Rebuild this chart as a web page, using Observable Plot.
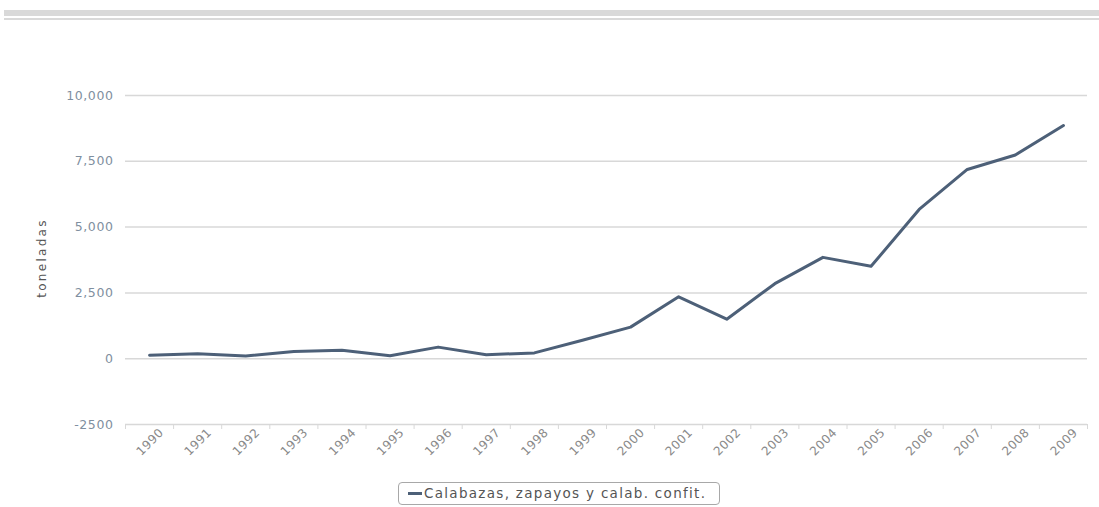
<!DOCTYPE html>
<html>
<head>
<meta charset="utf-8">
<script src="https://cdn.jsdelivr.net/npm/d3@7"></script>
<script src="https://cdn.jsdelivr.net/npm/@observablehq/plot@0.6"></script>
<style>
  html, body { margin: 0; padding: 0; background: #fff; width: 1099px; height: 507px; overflow: hidden; }
  #wrap { position: relative; width: 1099px; height: 507px; }
  .bar1 { position: absolute; left: 4px; right: 0; top: 10px; height: 6px; background: #d9d9d9; }
  .bar2 { position: absolute; left: 4px; right: 0; top: 18px; height: 2px; background: #d9d9d9; }
  #chart { position: absolute; left: 0; top: 0; }
  #legend { position: absolute; left: 398px; top: 482px; width: 322px; height: 23px; border: 1px solid #a8a8a8; border-radius: 4px; box-sizing: border-box;
    font-family: "DejaVu Sans", sans-serif; font-size: 13.5px; letter-spacing: 1.3px; color: #555; line-height: 21px; white-space: nowrap; }
  #legend .sw { display: inline-block; width: 14px; height: 3px; background: #4d6078; vertical-align: middle; margin-left: 9px; margin-right: 2px; position: relative; top: -1px; }
  .yt text { letter-spacing: 0.6px; }
  .xt text { letter-spacing: 0.5px; }
</style>
</head>
<body>
<div id="wrap">
  <div class="bar1"></div>
  <div class="bar2"></div>
  <div id="chart"></div>
  <div id="legend"><span class="sw"></span><span id="legtext"></span></div>
</div>
<script>
const years = [1990,1991,1992,1993,1994,1995,1996,1997,1998,1999,2000,2001,2002,2003,2004,2005,2006,2007,2008,2009];
const values = [130,190,105,270,320,110,440,150,220,700,1200,2350,1500,2850,3850,3510,5670,7190,7740,8860];
const yTicks = [-2500,0,2500,5000,7500,10000];
const yTickLabels = ["-2500","0","2,500","5,000","7,500","10,000"];
const seriesName = "Calabazas, zapayos y calab. confit.";
const yLabel = "toneladas";

const data = years.map((y, i) => ({year: y, value: values[i]}));
const boundaries = years.map(y => y - 0.5).concat([years[years.length - 1] + 0.5]);

const plot = Plot.plot({
  width: 1099,
  height: 480,
  marginLeft: 125,
  marginRight: 12,
  marginTop: 95,
  marginBottom: 56,
  style: {fontFamily: "DejaVu Sans, sans-serif", background: "transparent"},
  x: {type: "linear", domain: [years[0] - 0.5, years[years.length - 1] + 0.5]},
  y: {domain: [-2500, 10000]},
  marks: [
    Plot.ruleY(yTicks, {stroke: "#d8d8d8", strokeWidth: 1.5}),
    Plot.axisY({ticks: yTicks, tickSize: 0, tickPadding: 12, tickFormat: d => yTickLabels[yTicks.indexOf(d)], fill: "#7f8fa0", fontSize: 12.5, label: null, className: "yt"}),
    Plot.axisX({ticks: boundaries, tickSize: 5, tickFormat: () => "", stroke: "#d8d8d8", label: null}),
    Plot.axisX({ticks: years, tickSize: 0, tickRotate: -45, tickPadding: 6, dx: 12, tickFormat: d => String(d), fill: "#8a8a8a", fontSize: 12, label: null, className: "xt"}),
    Plot.line(data, {x: "year", y: "value", stroke: "#4d6078", strokeWidth: 3, strokeLinejoin: "round"}),
    Plot.text([yLabel], {frameAnchor: "left", textAnchor: "middle", dx: -83, dy: -2, rotate: -90, fill: "#555", fontSize: 12})
  ]
});
document.getElementById("chart").appendChild(plot);
d3.select(plot).selectAll("text").filter(function() { return this.textContent === yLabel; }).style("letter-spacing", "2.3px");
d3.select(plot).selectAll("[aria-label='y-axis tick label'] text").style("letter-spacing", "0.6px");
d3.select(plot).selectAll("[aria-label='x-axis tick label'] text").style("letter-spacing", "0.5px");
document.getElementById("legtext").textContent = seriesName;
</script>
</body>
</html>
